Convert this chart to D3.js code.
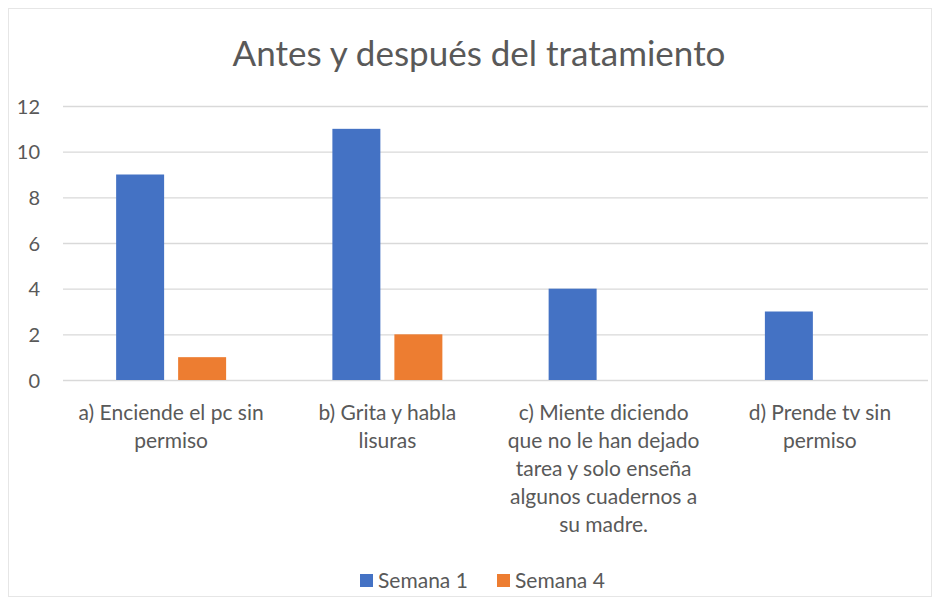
<!DOCTYPE html>
<html><head><meta charset="utf-8">
<script src="https://cdn.jsdelivr.net/npm/d3@7"></script>
<style>
html,body{margin:0;padding:0;background:#fff;}
text{font-family:Lato,"Open Sans",sans-serif;fill:#595959;}
</style></head>
<body><svg id="c" width="940" height="605"></svg>
<script>
const categories = [
  "a) Enciende el pc sin\npermiso",
  "b) Grita y habla\nlisuras",
  "c) Miente diciendo\nque no le han dejado\ntarea y solo enseña\nalgunos cuadernos a\nsu madre.",
  "d) Prende tv sin\npermiso"
];
const seriesNames = ["Semana 1", "Semana 4"];
const semana1 = [9, 11, 4, 3];
const semana4 = [1, 2, 0, 0];
const yTicks = [0, 2, 4, 6, 8, 10, 12];
const title = "Antes y después del tratamiento";
const colors = ["#4472C4", "#ED7D31"];

const svg = d3.select("#c");
svg.append("rect").attr("x",8.5).attr("y",8.5).attr("width",923).attr("height",588)
  .attr("fill","#fff").attr("stroke","#e6e6e6");

const m = {left:63, right:928, top:106, bottom:380};
const x = d3.scaleBand().domain(categories).range([m.left, m.right]).paddingInner(0).paddingOuter(0);
const y = d3.scaleLinear().domain([0,12]).range([m.bottom, m.top]);
const xs = d3.scaleBand().domain(seriesNames).range([0, x.bandwidth()]).paddingInner(0.226).paddingOuter(0.857);

// grid
svg.append("g").selectAll("line").data(yTicks).join("line")
  .attr("x1", m.left).attr("x2", m.right)
  .attr("y1", d=>y(d)+0.5).attr("y2", d=>y(d)+0.5)
  .attr("stroke","#d9d9d9").attr("stroke-width",1.3);

// y labels
const yAxis = d3.axisLeft(y).tickValues(yTicks).tickSize(0).tickPadding(0);
const ya = svg.append("g").attr("transform",`translate(40,0)`).call(yAxis);
ya.select(".domain").remove();
ya.selectAll("text").style("font-size","20px").style("font-family","Lato,sans-serif").attr("fill","#595959").attr("dy","0.35em");

// bars
const data = [semana1, semana4];
seriesNames.forEach((s,i)=>{
  svg.append("g").selectAll("rect").data(categories.map((c,j)=>({c, v:data[i][j]}))).join("rect")
    .attr("x", d=>x(d.c)+xs(s))
    .attr("width", xs.bandwidth())
    .attr("y", d=>y(d.v))
    .attr("height", d=>y(0)-y(d.v))
    .attr("fill", colors[i]);
});

// x labels
const xl = svg.append("g");
categories.forEach(c=>{
  const t = xl.append("text").attr("text-anchor","middle").style("font-size","21px")
    .attr("x", x(c)+x.bandwidth()/2).attr("y", 420);
  c.split("\n").forEach((ln,k)=>{
    t.append("tspan").attr("x", x(c)+x.bandwidth()/2).attr("dy", k===0?0:28).text(ln);
  });
});

// title
svg.append("text").attr("x", 479).attr("y", 66).attr("text-anchor","middle")
  .style("font-size","35px").text(title);

// legend
const lg = svg.append("g");
const legX = [360, 497];
seriesNames.forEach((s,i)=>{
  lg.append("rect").attr("x", legX[i]).attr("y", 574).attr("width",13).attr("height",13).attr("fill",colors[i]);
  lg.append("text").attr("x", legX[i]+18).attr("y", 588).style("font-size","21px").text(s);
});
</script></body></html>
